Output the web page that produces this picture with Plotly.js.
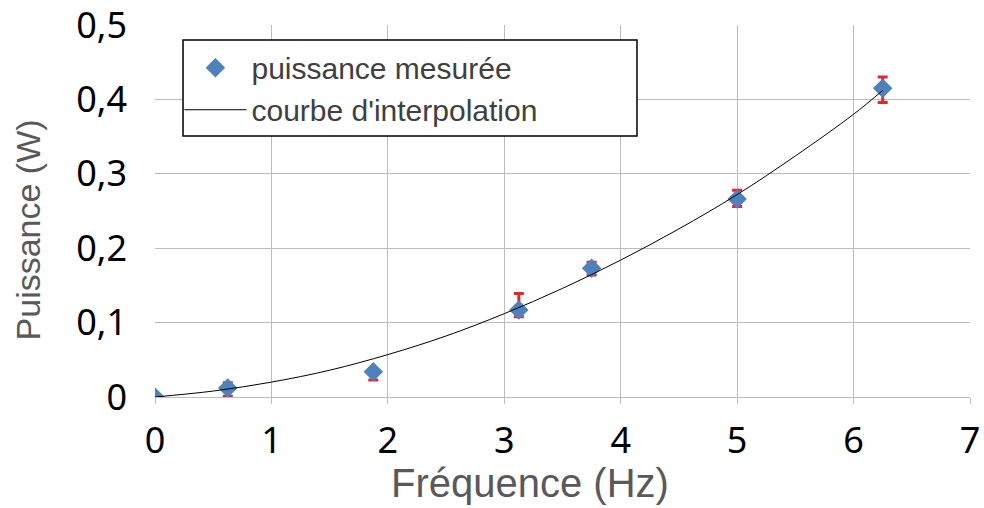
<!DOCTYPE html>
<html><head><meta charset="utf-8">
<script src="https://cdn.plot.ly/plotly-3.0.1.min.js"></script>
<style>body{margin:0;background:#fff}#g{width:984px;height:508px}</style>
</head><body><div id="g"></div>
<script>
const freq = [0, 0.625, 1.875, 3.125, 3.75, 5, 6.25];
const power = [0, 0.012, 0.034, 0.117, 0.173, 0.266, 0.415];
const errPlus = [0, 0.007, 0.004, 0.022, 0.008, 0.012, 0.015];
const errMinus = [0, 0.011, 0.011, 0.009, 0.009, 0.010, 0.019];
const curveX = [0, 0.5, 1, 1.5, 2, 2.5, 3, 3.5, 4, 4.5, 5, 5.5, 6, 6.25];
const curveY = [0, 0.008, 0.020, 0.036, 0.057, 0.082, 0.112, 0.146, 0.184, 0.226, 0.272, 0.324, 0.380, 0.412];
const xTicks = [0, 1, 2, 3, 4, 5, 6, 7];
const yTicks = [0, 0.1, 0.2, 0.3, 0.4, 0.5];
const yTickText = ['0', '0,1', '0,2', '0,3', '0,4', '0,5'];
const xTitle = 'Fréquence (Hz)';
const yTitle = 'Puissance (W)';

const traces = [
  {x: freq, y: power, type: 'scatter', mode: 'markers', name: 'puissance mesurée',
   marker: {symbol: 'diamond', size: 15, color: '#4f81bd'},
   error_y: {type: 'data', symmetric: false, array: errPlus, arrayminus: errMinus,
             color: '#e8262a', thickness: 3, width: 5}},
  {x: curveX, y: curveY, type: 'scatter', mode: 'lines', name: "courbe d'interpolation",
   line: {color: '#000', width: 1, shape: 'spline'}}
];
const layout = {
  width: 984, height: 508,
  margin: {l: 155, r: 14, t: 25, b: 111},
  paper_bgcolor: '#fff', plot_bgcolor: '#fff',
  separators: ', ',
  font: {family: 'Liberation Sans, Arial, sans-serif'},
  showlegend: true,
  legend: {x: 0.03, y: 0.955, xanchor: 'left', yanchor: 'top', borderwidth: 0,
           bgcolor: 'rgba(255,255,255,0)', font: {size: 30, color: '#404040'}, tracegroupgap: 0,
           itemwidth: 62},
  shapes: [{type: 'rect', xref: 'paper', yref: 'paper', x0: 0.0344, x1: 0.5914, y0: 0.7016, y1: 0.9597,
            line: {color: '#000', width: 1.5}, fillcolor: '#fff', layer: 'above'}],
  annotations: [
    {text: xTitle, xref: 'paper', yref: 'paper', x: 0.46, y: -0.232, xanchor: 'center', yanchor: 'middle',
     showarrow: false, font: {size: 40, color: '#595959'}},
    {text: yTitle, xref: 'paper', yref: 'paper', x: -0.156, y: 0.45, xanchor: 'center', yanchor: 'middle',
     textangle: -90, showarrow: false, font: {size: 34, color: '#595959'}}
  ],
  xaxis: {range: [0, 7], tickvals: xTicks, showgrid: true, gridcolor: '#bdbdbd', gridwidth: 1,
          zeroline: false, showline: true, linecolor: '#bdbdbd', ticks: 'outside', ticklen: 6, tickcolor: '#bdbdbd',
          ticklabelstandoff: 6,
          tickfont: {size: 36, color: '#000', family: 'Noto Sans, sans-serif'}},
  yaxis: {range: [0, 0.5], tickvals: yTicks, ticktext: yTickText, showgrid: true, gridcolor: '#bdbdbd', gridwidth: 1,
          zeroline: false, showline: false, ticks: '', ticklabelstandoff: 27, ticklabeloverflow: 'allow',
          tickfont: {size: 36, color: '#000', family: 'Noto Sans, sans-serif'}}
};
Plotly.newPlot('g', traces, layout, {displayModeBar: false, staticPlot: true});
</script></body></html>
